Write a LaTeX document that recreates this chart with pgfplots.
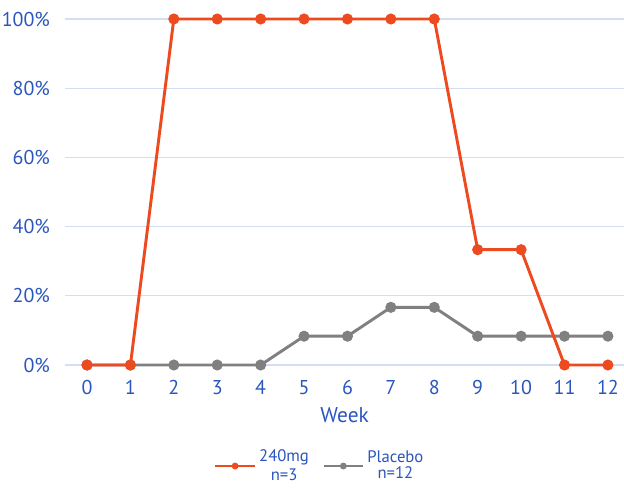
\documentclass[border=0pt]{standalone}
\usepackage{fontspec}
\setmainfont{PT Sans}
\usepackage{pgfplots}
\pgfplotsset{compat=1.18}
\definecolor{tblue}{HTML}{2A56BE}
\definecolor{ored}{HTML}{EE4A20}
\definecolor{pgray}{HTML}{808080}
\definecolor{gridc}{HTML}{D2DEF4}
\begin{document}
\begin{tikzpicture}
\useasboundingbox (0pt,0pt) rectangle (468pt,365.25pt);
\begin{axis}[
  at={(48.975pt,91.5pt)}, anchor=south west,
  scale only axis,
  width=419pt, height=259.5pt,
  xmin=-0.5, xmax=12.37, ymin=0, ymax=100,
  axis line style={draw=none},
  major tick length=0pt,
  ymajorgrids, grid style={gridc, line width=1pt},
  xtick={0,...,12}, ytick={0,20,...,100},
  yticklabel={\pgfmathprintnumber{\tick}\%},
  /pgf/number format/assume math mode=true,
  ticklabel style={font=\fontsize{15}{17}\selectfont, text=tblue},
  yticklabel style={xshift=-8pt},
  xticklabel style={yshift=-8pt},
  xlabel={Week}, xlabel style={font=\fontsize{16}{18}\selectfont, text=tblue, yshift=-3pt},
  clip=false,
  legend style={at={(0.456,-0.228)}, anchor=north, draw=none, legend columns=2,
    font=\fontsize{12.5}{10.5}\selectfont, text=tblue,
    /tikz/every even column/.append style={column sep=8pt}},
  legend cell align=left,
  legend image code/.code={\draw[#1] (0cm,0cm) -- (1.05cm,0cm); \draw[#1, draw=none] plot[mark size=1.5pt] coordinates {(0.52cm,0cm)};},
]
\addlegendimage{ored, line width=2pt, mark=*}
\addlegendentry{\shortstack{240mg\\n=3}}
\addlegendimage{pgray, line width=2pt, mark=*}
\addlegendentry{\shortstack{Placebo\\n=12}}
\addplot[pgray, line width=2.2pt, mark=*, mark size=3pt, forget plot] coordinates {
(0,0) (1,0) (2,0) (3,0) (4,0) (5,8.33) (6,8.33) (7,16.67) (8,16.67) (9,8.33) (10,8.33) (11,8.33) (12,8.33)};
\addplot[ored, line width=2.2pt, mark=*, mark size=3pt, forget plot] coordinates {
(0,0) (1,0) (2,100) (3,100) (4,100) (5,100) (6,100) (7,100) (8,100) (9,33.33) (10,33.33) (11,0) (12,0)};
\end{axis}
\end{tikzpicture}
\end{document}
